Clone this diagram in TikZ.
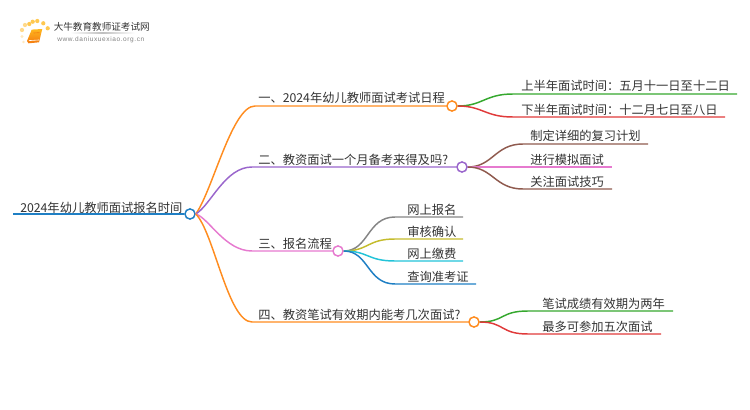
\documentclass[tikz,border=0pt]{standalone}
\usepackage{fontspec}
\setmainfont{Noto Sans CJK SC}
\newfontfamily\latinlogo[LetterSpace=9]{Liberation Sans}
\definecolor{corange}{HTML}{FF8C1F}
\definecolor{cpurple}{HTML}{9A66CC}
\definecolor{cpink}{HTML}{E67ACF}
\definecolor{cblue}{HTML}{1F7FC4}
\definecolor{cgreen}{HTML}{35A82E}
\definecolor{cred}{HTML}{E03A3A}
\definecolor{cbrown}{HTML}{8F5A4E}
\definecolor{cgray}{HTML}{858585}
\definecolor{colive}{HTML}{C4BC2C}
\definecolor{ccyan}{HTML}{22C3D8}
\definecolor{ctxt}{HTML}{333333}
\definecolor{sunpale}{HTML}{FFE9C0}
\definecolor{sunmid}{HTML}{FFD98A}
\definecolor{sunfull}{HTML}{FFC850}
\definecolor{booktop}{HTML}{FFB81E}
\definecolor{bookbot}{HTML}{F47A10}
\tikzset{
  lbl/.style={font=\fontsize{9.2pt}{11pt}\selectfont,text=ctxt,inner sep=0pt,anchor=base west},
  dotn/.style={circle,draw=#1,fill=white,line width=1.1pt,minimum size=7.6pt,inner sep=0pt},
  conn/.style={line width=1.1pt,draw=#1},
  sun/.style={circle,fill=#1,inner sep=0pt,minimum size=3.2pt},
}
\begin{document}
\begin{tikzpicture}[x=0.75pt,y=-0.75pt]
\useasboundingbox (0,0) rectangle (750,410);
% logo
\foreach \n/\x/\y/\c in {a/22/30/sunmid,b/25/25/sunmid,c/29.3/24/sunfull,d/32.7/21.7/sunfull,e/37.3/21/sunfull,f/43.3/23.3/sunfull,g/47.7/28.3/sunfull}
  {\node[sun=\c] (s\n) at (\x,\y) {};}
\node[sun=sunpale,minimum size=2.4pt] (sg) at (22,36.5) {};
\node[sun=sunpale,minimum size=2pt] (sh) at (23.5,42) {};
\shade[top color=booktop,bottom color=bookbot] (27,41) -- (31.7,29.6) -- (42.3,29) -- (39,42.3) -- (28.5,43.3) -- cycle;
\draw[white,line width=0.45pt] (28.8,40.6) -- (38.8,40);
\draw[bookbot,line width=0.5pt] (33.5,33) -- (39.5,32.7);
\node[inner sep=0pt,text=ctxt,font=\fontsize{7.2pt}{9pt}\selectfont,anchor=base west] (logot) at (53.5,30.5) {大牛教育教师证考试网};
\node[inner sep=0pt,text=gray,font=\fontsize{4.9pt}{7pt}\latinlogo,anchor=base west] (logou) at (57,41.5) {www.daniuxuexiao.org.cn};
\shade[left color=white,right color=white,middle color=black!25] (70,32.6) rectangle (135,33.4);
% hubs
\node[dotn=cblue] (root) at (190,214) {};
\node[dotn=corange] (h1) at (452,106) {};
\node[dotn=cpurple] (h2) at (462,167) {};
\node[dotn=cpink] (h3) at (338,251) {};
\node[dotn=corange] (h4) at (474,322) {};
\coordinate (r0) at (13,214);
\coordinate (k1) at (255,106);
\coordinate (k2) at (252,167);
\coordinate (k3) at (252,251);
\coordinate (k4) at (252,322);
% main connectors
\draw[conn=cblue,line width=1.5pt] (r0) -- (root.west);
\draw[conn=corange] (root.east) .. controls +(17,-24) and +(-23,0) .. (k1) -- (h1.west);
\draw[conn=cpurple] (root.east) .. controls +(15,-9) and +(-27,0) .. (k2) -- (h2.west);
\draw[conn=cpink] (root.east) .. controls +(13,4) and +(-27,0) .. (k3) -- (h3.west);
\draw[conn=corange] (root.east) .. controls +(18,18) and +(-24,0) .. (k4) -- (h4.west);
% texts
\node[lbl] (t0) at (20,212) {2024年幼儿教师面试报名时间};
\node[lbl] (t1) at (258,103) {一、2024年幼儿教师面试考试日程};
\node[lbl] (t2) at (258,164) {二、教资面试一个月备考来得及吗?};
\node[lbl] (t3) at (258,248) {三、报名流程};
\node[lbl] (t4) at (258,319) {四、教资笔试有效期内能考几次面试?};
\node[lbl] (l11) at (521,91) {上半年面试时间：五月十一日至十二日};
\node[lbl] (l12) at (521,114) {下半年面试时间：十二月七日至八日};
\node[lbl] (l21) at (530,141) {制定详细的复习计划};
\node[lbl] (l22) at (530,164) {进行模拟面试};
\node[lbl] (l23) at (530,186) {关注面试技巧};
\node[lbl] (l31) at (407,214) {网上报名};
\node[lbl] (l32) at (407,236) {审核确认};
\node[lbl] (l33) at (407,258) {网上缴费};
\node[lbl] (l34) at (407,281) {查询准考证};
\node[lbl] (l41) at (542,308) {笔试成绩有效期为两年};
\node[lbl] (l42) at (542,331) {最多可参加五次面试};
% leaf ends
\coordinate (e11) at (737,94);
\coordinate (e12) at (725,117);
\coordinate (e21) at (648,144);
\coordinate (e22) at (612,167);
\coordinate (e23) at (612,189);
\coordinate (e31) at (463,217);
\coordinate (e32) at (463,239);
\coordinate (e33) at (463,261);
\coordinate (e34) at (476,284);
\coordinate (e41) at (673,311);
\coordinate (e42) at (661,334);
\coordinate (b11) at (513,94);
\coordinate (b12) at (513,117);
\coordinate (b21) at (523,144);
\coordinate (b22) at (523,167);
\coordinate (b23) at (523,189);
\coordinate (b31) at (395,217);
\coordinate (b32) at (395,239);
\coordinate (b33) at (395,261);
\coordinate (b34) at (395,284);
\coordinate (b41) at (528,311);
\coordinate (b42) at (528,334);
% leaf connectors
\foreach \h/\b/\e/\c in {h1/b11/e11/cgreen,h1/b12/e12/cred,h2/b21/e21/cbrown,h2/b22/e22/cpink,h2/b23/e23/cbrown,h3/b31/e31/cgray,h3/b32/e32/colive,h3/b33/e33/ccyan,h3/b34/e34/cblue,h4/b41/e41/cgreen,h4/b42/e42/cred}
  {\draw[conn=\c] (\h.east) .. controls +(25,0) and +(-28,0) .. (\b) -- (\e);}
\end{tikzpicture}
\end{document}
